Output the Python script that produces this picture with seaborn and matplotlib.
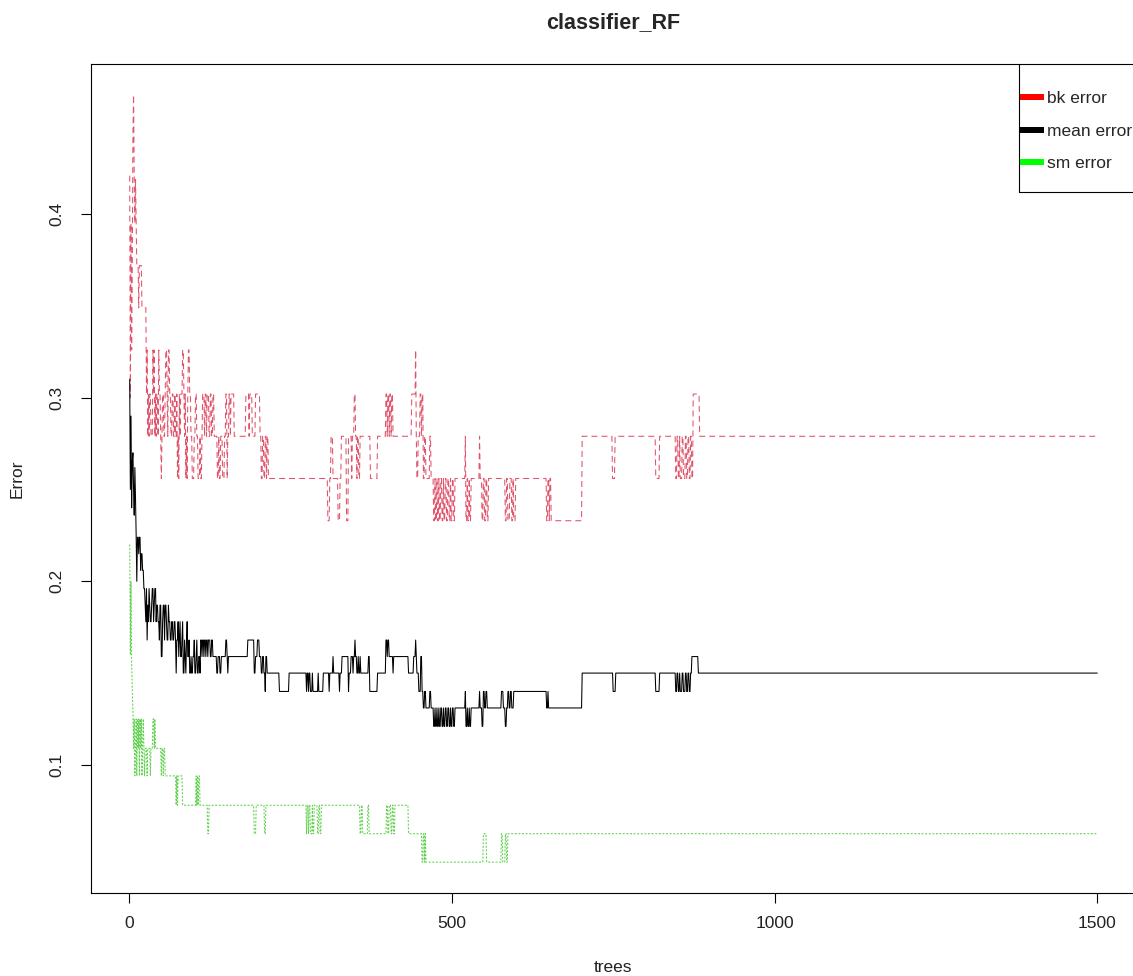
import numpy as np
import pandas as pd
import matplotlib
matplotlib.use("Agg")
import matplotlib.pyplot as plt
from matplotlib.lines import Line2D
from matplotlib.patches import Rectangle
import seaborn as sns

# ---- data: out-of-bag error per number of trees (step changes) ----
n_trees = 1500

bk_start = [1, 2, 3, 4, 5, 6, 7, 8, 9, 10, 11, 12, 15, 16, 20, 27, 28, 29, 30, 31,
            32, 34, 37, 38, 39, 40, 41, 42, 43, 45, 46, 47, 49, 50, 51, 52, 54, 56, 57, 59,
            60, 61, 63, 65, 67, 69, 71, 72, 74, 75, 76, 77, 78, 79, 80, 83, 85, 86, 87, 88,
            89, 90, 91, 92, 94, 96, 98, 101, 103, 105, 107, 110, 111, 113, 114, 117, 118, 120, 121, 124,
            126, 128, 130, 132, 137, 139, 140, 142, 145, 148, 150, 152, 153, 155, 157, 158, 163, 181, 186, 187,
            191, 196, 203, 205, 207, 209, 211, 213, 214, 216, 308, 311, 313, 316, 324, 327, 329, 337, 340, 345,
            346, 349, 351, 353, 354, 356, 358, 374, 385, 398, 400, 401, 403, 404, 406, 407, 409, 438, 444, 445,
            446, 448, 451, 453, 454, 456, 458, 460, 466, 468, 472, 474, 475, 477, 478, 480, 481, 483, 485, 487,
            488, 490, 492, 494, 496, 498, 499, 501, 503, 505, 521, 522, 524, 525, 527, 528, 530, 543, 544, 547,
            549, 551, 553, 555, 557, 583, 585, 587, 590, 593, 595, 596, 599, 647, 649, 651, 652, 654, 702, 749,
            753, 816, 822, 847, 849, 851, 853, 854, 857, 859, 862, 864, 866, 868, 870, 872, 874, 884]
bk_err = [0.421, 0.300, 0.395, 0.326, 0.372, 0.442, 0.465, 0.419, 0.395, 0.419, 0.395, 0.372, 0.349, 0.372, 0.349, 0.302, 0.326, 0.279, 0.302, 0.279,
          0.302, 0.279, 0.326, 0.302, 0.326, 0.279, 0.302, 0.279, 0.302, 0.279, 0.326, 0.302, 0.279, 0.256, 0.279, 0.302, 0.279, 0.302, 0.326, 0.302,
          0.279, 0.326, 0.302, 0.279, 0.302, 0.279, 0.302, 0.279, 0.302, 0.256, 0.279, 0.256, 0.302, 0.279, 0.302, 0.326, 0.302, 0.279, 0.302, 0.256,
          0.279, 0.256, 0.302, 0.326, 0.302, 0.279, 0.256, 0.279, 0.302, 0.279, 0.256, 0.279, 0.256, 0.279, 0.302, 0.279, 0.302, 0.279, 0.302, 0.279,
          0.302, 0.279, 0.302, 0.279, 0.256, 0.279, 0.256, 0.279, 0.256, 0.279, 0.302, 0.256, 0.279, 0.302, 0.279, 0.302, 0.279, 0.302, 0.279, 0.302,
          0.279, 0.302, 0.279, 0.256, 0.279, 0.256, 0.279, 0.256, 0.279, 0.256, 0.233, 0.256, 0.279, 0.256, 0.233, 0.256, 0.279, 0.233, 0.279, 0.256,
          0.279, 0.302, 0.279, 0.256, 0.279, 0.256, 0.279, 0.256, 0.279, 0.302, 0.279, 0.302, 0.279, 0.302, 0.279, 0.302, 0.279, 0.302, 0.326, 0.279,
          0.256, 0.279, 0.302, 0.279, 0.302, 0.256, 0.279, 0.256, 0.279, 0.256, 0.233, 0.256, 0.233, 0.256, 0.233, 0.256, 0.233, 0.256, 0.233, 0.256,
          0.233, 0.256, 0.233, 0.256, 0.233, 0.256, 0.233, 0.256, 0.233, 0.256, 0.279, 0.233, 0.256, 0.233, 0.256, 0.233, 0.256, 0.279, 0.256, 0.233,
          0.256, 0.233, 0.256, 0.233, 0.256, 0.233, 0.256, 0.233, 0.256, 0.233, 0.256, 0.233, 0.256, 0.233, 0.256, 0.233, 0.256, 0.233, 0.279, 0.256,
          0.279, 0.256, 0.279, 0.256, 0.279, 0.256, 0.279, 0.256, 0.279, 0.256, 0.279, 0.256, 0.279, 0.256, 0.279, 0.256, 0.302, 0.279]

mean_start = [1, 2, 3, 4, 5, 6, 7, 8, 9, 10, 11, 12, 13, 15, 16, 18, 19, 21, 23, 25,
              26, 27, 28, 29, 30, 31, 32, 33, 35, 36, 38, 39, 40, 42, 43, 45, 47, 48, 50, 52,
              53, 55, 56, 58, 59, 61, 62, 64, 66, 68, 70, 72, 73, 74, 76, 77, 78, 79, 80, 82,
              83, 84, 86, 87, 88, 89, 90, 91, 93, 94, 96, 97, 99, 101, 102, 104, 105, 106, 108, 110,
              111, 113, 114, 116, 117, 119, 120, 122, 123, 126, 128, 130, 136, 138, 141, 143, 150, 152, 153, 154,
              184, 194, 196, 199, 202, 205, 207, 209, 211, 212, 214, 233, 248, 275, 276, 278, 279, 281, 284, 285,
              293, 294, 301, 310, 311, 316, 317, 326, 327, 330, 340, 341, 344, 347, 348, 350, 351, 353, 355, 356,
              358, 359, 371, 373, 385, 398, 400, 401, 403, 409, 410, 433, 441, 444, 445, 446, 449, 452, 454, 456,
              458, 460, 466, 468, 472, 474, 475, 477, 478, 480, 481, 483, 485, 487, 488, 490, 492, 494, 496, 498,
              499, 501, 503, 505, 521, 522, 524, 525, 527, 528, 530, 543, 544, 547, 549, 551, 553, 555, 577, 580,
              583, 585, 587, 589, 591, 593, 596, 647, 649, 650, 702, 750, 754, 816, 822, 847, 849, 851, 853, 854,
              857, 859, 862, 864, 866, 868, 870, 872, 882]
mean_err = [0.310, 0.250, 0.290, 0.240, 0.265, 0.270, 0.250, 0.236, 0.262, 0.245, 0.225, 0.200, 0.224, 0.215, 0.224, 0.206, 0.215, 0.206, 0.196, 0.187,
            0.178, 0.196, 0.168, 0.187, 0.178, 0.196, 0.187, 0.178, 0.187, 0.196, 0.178, 0.187, 0.196, 0.178, 0.187, 0.178, 0.168, 0.187, 0.159, 0.178,
            0.187, 0.168, 0.187, 0.178, 0.168, 0.187, 0.178, 0.168, 0.178, 0.168, 0.178, 0.168, 0.150, 0.168, 0.178, 0.159, 0.168, 0.178, 0.159, 0.168,
            0.178, 0.150, 0.168, 0.159, 0.150, 0.168, 0.178, 0.159, 0.168, 0.150, 0.159, 0.150, 0.159, 0.168, 0.150, 0.159, 0.168, 0.150, 0.159, 0.150,
            0.168, 0.159, 0.168, 0.159, 0.168, 0.159, 0.168, 0.159, 0.168, 0.159, 0.168, 0.159, 0.150, 0.159, 0.150, 0.159, 0.168, 0.159, 0.150, 0.159,
            0.168, 0.150, 0.159, 0.168, 0.159, 0.150, 0.159, 0.150, 0.140, 0.159, 0.150, 0.140, 0.150, 0.140, 0.150, 0.140, 0.150, 0.140, 0.150, 0.140,
            0.150, 0.140, 0.150, 0.140, 0.150, 0.159, 0.150, 0.140, 0.150, 0.159, 0.140, 0.150, 0.159, 0.150, 0.159, 0.168, 0.159, 0.150, 0.159, 0.150,
            0.159, 0.150, 0.159, 0.140, 0.150, 0.168, 0.159, 0.168, 0.159, 0.150, 0.159, 0.150, 0.159, 0.168, 0.159, 0.150, 0.140, 0.159, 0.140, 0.131,
            0.140, 0.131, 0.140, 0.131, 0.121, 0.131, 0.121, 0.131, 0.121, 0.131, 0.121, 0.131, 0.121, 0.131, 0.121, 0.131, 0.121, 0.131, 0.121, 0.131,
            0.121, 0.131, 0.121, 0.131, 0.140, 0.121, 0.131, 0.121, 0.131, 0.121, 0.131, 0.140, 0.131, 0.121, 0.140, 0.131, 0.140, 0.131, 0.140, 0.131,
            0.121, 0.131, 0.140, 0.131, 0.140, 0.131, 0.140, 0.131, 0.140, 0.131, 0.150, 0.140, 0.150, 0.140, 0.150, 0.140, 0.150, 0.140, 0.150, 0.140,
            0.150, 0.140, 0.150, 0.140, 0.150, 0.140, 0.150, 0.159, 0.150]

sm_start = [1, 2, 3, 4, 5, 6, 7, 8, 9, 10, 11, 12, 13, 14, 15, 16, 17, 18, 19, 20,
            21, 22, 23, 24, 25, 28, 29, 33, 34, 37, 39, 40, 41, 50, 51, 53, 54, 56, 73, 74,
            75, 76, 83, 104, 105, 106, 107, 108, 110, 122, 124, 194, 197, 210, 212, 275, 276, 278, 279, 281,
            284, 285, 287, 292, 294, 296, 298, 301, 358, 360, 362, 370, 372, 399, 401, 403, 406, 408, 410, 412,
            433, 454, 456, 458, 459, 460, 549, 554, 577, 579, 583, 585, 587]
sm_err = [0.220, 0.160, 0.200, 0.156, 0.140, 0.130, 0.109, 0.125, 0.094, 0.109, 0.125, 0.094, 0.125, 0.109, 0.125, 0.094, 0.125, 0.109, 0.125, 0.094,
          0.109, 0.125, 0.109, 0.094, 0.109, 0.094, 0.109, 0.094, 0.109, 0.125, 0.109, 0.125, 0.109, 0.094, 0.109, 0.094, 0.109, 0.094, 0.078, 0.094,
          0.078, 0.094, 0.078, 0.094, 0.078, 0.094, 0.078, 0.094, 0.078, 0.0625, 0.078, 0.0625, 0.078, 0.0625, 0.078, 0.0625, 0.078, 0.0625, 0.078, 0.0625,
          0.078, 0.0625, 0.078, 0.0625, 0.078, 0.0625, 0.078, 0.078, 0.0625, 0.078, 0.0625, 0.078, 0.0625, 0.078, 0.0625, 0.078, 0.0625, 0.078, 0.0625, 0.078,
          0.0625, 0.047, 0.0625, 0.047, 0.0625, 0.047, 0.0625, 0.047, 0.0625, 0.047, 0.0625, 0.047, 0.0625]

series_names = ["bk error", "mean error", "sm error"]
line_colors = {"bk error": "#DF536B", "mean error": "#000000", "sm error": "#61D04F"}
legend_colors = ["#FF0000", "#000000", "#00FF00"]
x_ticks = [0, 500, 1000, 1500]
y_ticks = [0.1, 0.2, 0.3, 0.4]

trees = np.arange(1, n_trees + 1)


def expand_steps(starts, values):
    """Value in effect for each tree count, given the trees where it changes."""
    idx = np.searchsorted(np.asarray(starts), trees, side="right") - 1
    return np.asarray(values, dtype=float)[idx]


df = pd.concat([
    pd.DataFrame({"trees": trees, "Error": expand_steps(bk_start, bk_err), "series": "bk error"}),
    pd.DataFrame({"trees": trees, "Error": expand_steps(mean_start, mean_err), "series": "mean error"}),
    pd.DataFrame({"trees": trees, "Error": expand_steps(sm_start, sm_err), "series": "sm error"}),
], ignore_index=True)

# ---- styling ----
sns.set_theme(style="ticks")
plt.rcParams["font.family"] = ["Liberation Sans", "DejaVu Sans"]
plt.rcParams["lines.scale_dashes"] = False
plt.rcParams["axes.edgecolor"] = "black"
plt.rcParams["axes.linewidth"] = 0.8

W, H, DPI = 1133, 976, 100
fig = plt.figure(figsize=(W / DPI, H / DPI), dpi=DPI)
ax_left, ax_right, ax_top, ax_bottom = 91, 1136, 64, 893
ax = fig.add_axes([ax_left / W, 1 - ax_bottom / H, (ax_right - ax_left) / W, (ax_bottom - ax_top) / H])

px = 72 / DPI  # one pixel in points
sns.lineplot(
    data=df, x="trees", y="Error", hue="series", style="series",
    hue_order=series_names, style_order=series_names,
    palette=line_colors,
    dashes={"bk error": (6 * px, 4 * px), "mean error": "", "sm error": (2 * px, 1.6 * px)},
    estimator=None, sort=False, linewidth=1.05 * px, legend=False, ax=ax,
)

ax.set_xlim(-58.96, 1559.96)
ax.set_ylim(0.0302, 0.4818)
ax.set_xticks(x_ticks)
ax.set_xticklabels([str(t) for t in x_ticks])
ax.set_yticks(y_ticks)
ax.set_yticklabels([f"{t:.1f}" for t in y_ticks], rotation=90, va="center")
ax.tick_params(axis="both", direction="out", length=10 * px, width=0.8, color="black",
               labelsize=12.5, labelcolor="#222222")
ax.tick_params(axis="x", pad=13 * px)
ax.tick_params(axis="y", pad=17 * px)
for s in ax.spines.values():
    s.set_visible(True)
    s.set_color("black")
    s.set_linewidth(0.8)

ax.set_xlabel("trees", fontsize=12.5, labelpad=29 * px, color="#222222")
ax.set_ylabel("Error", fontsize=12.5, labelpad=24 * px, color="#222222")
fig.text(613 / W, 1 - 23 / H, "classifier_RF", ha="center", va="center",
         fontsize=15.5, fontweight="bold")

# legend box in the top-right corner of the plot region
ax.add_patch(Rectangle(((1019 - ax_left) / (ax_right - ax_left), (ax_bottom - 192) / (ax_bottom - ax_top)),
                       1.0, 1.0, transform=ax.transAxes, fill=False, edgecolor="black",
                       linewidth=0.8, clip_on=True))
handles = [Line2D([0], [0], color=c, linewidth=6 * px, solid_capstyle="butt") for c in legend_colors]
fig.legend(handles, series_names, loc="upper left", bbox_to_anchor=(1020 / W, 1 - 91 / H),
           bbox_transform=fig.transFigure, frameon=False, fontsize=12.5,
           handlelength=1.36, handletextpad=0.22, labelspacing=1.0,
           borderpad=0, borderaxespad=0)

fig.savefig("out.png", dpi=DPI)
